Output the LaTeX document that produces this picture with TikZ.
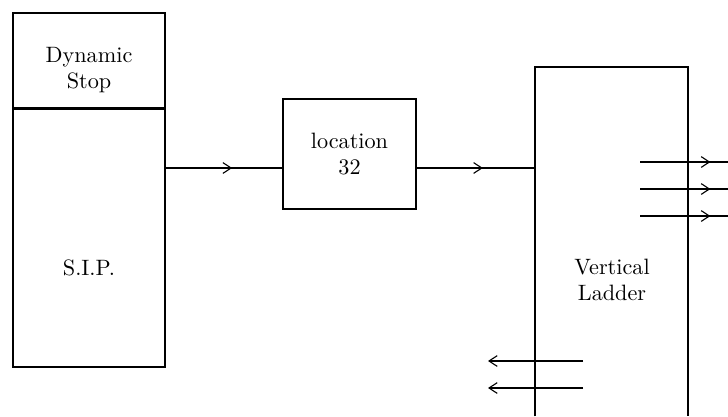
\documentclass[tikz,border=0pt]{standalone}
\usepackage{tikz}
\usetikzlibrary{arrows.meta,decorations.markings}

\begin{document}
\begin{tikzpicture}[
  x=0.45pt,y=-0.45pt,
  font=\normalsize,
  >={Straight Barb[length=1.3mm,width=1.7mm]},
  box/.style   ={draw=black,line width=0.9pt,inner sep=0pt},
  txt/.style   ={align=center,inner sep=1pt},
  wire/.style  ={draw=black,line width=0.5pt},
  midarr/.style={wire,postaction={decorate},
                 decoration={markings,mark=at position #1 with {\arrow{>}}}},
]
\useasboundingbox (0,0) rectangle (728,416);

% ===================== left block: dynamic stop over S.I.P. ==============
\node[box,minimum width=68.4pt,minimum height=42.75pt] (DS)  at (89,60.5) {};
\node[box,minimum width=68.4pt,minimum height=116.1pt] (SIP) at (89,238)  {};
\node[txt] (DStxt)  at (89,70)  {Dynamic\\Stop};
\node[txt] (SIPtxt) at (89,268) {S.I.P.};

% ===================== middle block ======================================
\node[box,txt,minimum width=59.85pt,minimum height=49.5pt] (Loc) at (349.5,154)
  {location\\32};

% ===================== vertical ladder (open at the bottom) ==============
\node[minimum width=68.85pt,minimum height=157.05pt,inner sep=0pt] (VL) at (611.5,241.5) {};
\draw[line width=0.9pt] (VL.south west) -- (VL.north west)
  -- (VL.north east) -- (VL.south east);
\node[txt] (VLtxt) at (612,280) {Vertical\\Ladder};

% main flow, a little below the middle of the location box
\coordinate (inA) at (0,168);
\draw[midarr=0.57] (SIP.east |- inA) -- (Loc.west |- inA);
\draw[midarr=0.56] (Loc.east |- inA) -- (VL.west |- inA);

% ----- outputs through the right side -----------------------------------
\foreach \y in {162,189,216} {
  \coordinate (o\y) at (640,\y);
  \coordinate (e\y) at (728,\y);
  \draw[midarr=0.8] (o\y) -- (e\y);
}

% ----- returns through the left side ------------------------------------
\foreach \y in {361,388} {
  \coordinate (s\y) at (583,\y);
  \coordinate (t\y) at (488,\y);
  \draw[wire,->] (s\y) -- (t\y);
}

\end{tikzpicture}
\end{document}
